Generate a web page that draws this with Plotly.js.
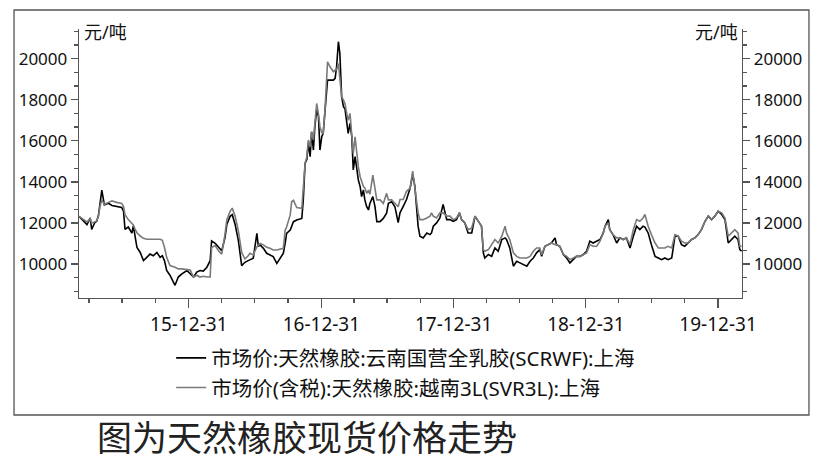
<!DOCTYPE html>
<html><head><meta charset="utf-8">
<script src="https://cdn.plot.ly/plotly-3.0.1.min.js"></script>
<style>html,body{margin:0;padding:0;background:#fff;} #chart{width:826px;height:463px;}</style>
</head><body><div id="chart"></div>
<script>
const dates = [
'2015-03-03','2015-03-15','2015-03-25','2015-04-03','2015-04-07','2015-04-15','2015-04-21','2015-04-26','2015-04-30','2015-05-05',
'2015-05-12','2015-05-23','2015-06-02','2015-06-15','2015-06-29','2015-07-04','2015-07-08','2015-07-17','2015-07-27','2015-07-31',
'2015-08-05','2015-08-10','2015-08-19','2015-08-28','2015-09-06','2015-09-15','2015-09-24','2015-10-04','2015-10-13','2015-10-19',
'2015-10-25','2015-10-31','2015-11-09','2015-11-23','2015-12-02','2015-12-12','2015-12-26','2016-01-04','2016-01-13','2016-01-22',
'2016-01-31','2016-02-09','2016-02-19','2016-02-28','2016-03-03','2016-03-13','2016-03-22','2016-03-31','2016-04-09','2016-04-14',
'2016-04-23','2016-04-29','2016-05-07','2016-05-16','2016-05-25','2016-06-03','2016-06-12','2016-06-17','2016-06-26','2016-07-06',
'2016-07-10','2016-07-15','2016-07-24','2016-08-02','2016-08-11','2016-08-20','2016-08-30','2016-09-08','2016-09-17','2016-09-22',
'2016-09-26','2016-10-06','2016-10-10','2016-10-15','2016-10-24','2016-11-07','2016-11-11','2016-11-16','2016-11-21','2016-11-25',
'2016-11-30','2016-12-04','2016-12-09','2016-12-13','2016-12-18','2016-12-23','2016-12-27','2017-01-01','2017-01-05','2017-01-10',
'2017-01-15','2017-01-17','2017-01-24','2017-02-02','2017-02-07','2017-02-11','2017-02-16','2017-02-20','2017-02-25','2017-03-02',
'2017-03-06','2017-03-11','2017-03-15','2017-03-20','2017-03-25','2017-03-29','2017-04-03','2017-04-07','2017-04-12','2017-04-17',
'2017-04-21','2017-04-26','2017-04-30','2017-05-05','2017-05-10','2017-05-14','2017-05-22','2017-05-28','2017-06-02','2017-06-11',
'2017-06-20','2017-06-29','2017-07-04','2017-07-13','2017-07-22','2017-07-31','2017-08-05','2017-08-14','2017-08-23','2017-09-02',
'2017-09-09','2017-09-15','2017-09-20','2017-09-24','2017-09-29','2017-10-08','2017-10-18','2017-10-27','2017-10-31','2017-11-05',
'2017-11-14','2017-11-23','2017-12-02','2017-12-12','2017-12-21','2017-12-30','2018-01-08','2018-01-16','2018-01-22','2018-01-31',
'2018-02-09','2018-02-19','2018-02-28','2018-03-09','2018-03-18','2018-03-23','2018-03-27','2018-04-06','2018-04-15','2018-04-24',
'2018-05-03','2018-05-13','2018-05-22','2018-05-26','2018-06-04','2018-06-14','2018-06-23','2018-07-02','2018-07-11','2018-07-21',
'2018-07-30','2018-08-08','2018-08-17','2018-08-26','2018-08-31','2018-09-09','2018-09-18','2018-09-27','2018-10-07','2018-10-11',
'2018-10-20','2018-10-30','2018-11-08','2018-11-17','2018-11-26','2018-12-05','2018-12-15','2018-12-24','2019-01-02','2019-01-11',
'2019-01-20','2019-01-30','2019-02-08','2019-02-17','2019-02-22','2019-03-03','2019-03-07','2019-03-16','2019-03-26','2019-04-04',
'2019-04-13','2019-04-22','2019-05-02','2019-05-11','2019-05-20','2019-05-29','2019-06-07','2019-06-12','2019-06-21','2019-06-30',
'2019-07-10','2019-07-19','2019-07-28','2019-08-06','2019-08-15','2019-08-25','2019-09-03','2019-09-12','2019-09-21','2019-09-30',
'2019-10-09','2019-10-19','2019-10-28','2019-11-06','2019-11-15','2019-11-25','2019-12-04','2019-12-13','2019-12-22','2019-12-31',
'2020-01-10','2020-01-19','2020-01-28','2020-02-06','2020-02-15','2020-02-24','2020-02-29','2020-03-05'
];
// 市场价:天然橡胶:云南国营全乳胶(SCRWF):上海 (元/吨)
const scrwf = [
12320,12100,11920,12240,11680,12000,12080,12400,12960,13600,
12880,12960,12850,12800,12750,12560,11680,11800,11500,11850,
11280,10800,10560,10160,10320,10480,10400,10560,10320,10400,
10150,9680,9450,8960,9360,9520,9680,9520,9360,9600,
9680,9650,9840,10160,11120,11000,10800,10640,11280,11920,
12320,12400,11920,11120,9920,10080,10160,10190,10280,11490,
10850,10930,10760,10520,10440,10360,10030,10280,10520,11000,
11490,11650,11800,12060,12140,12220,13100,14900,15100,15900,
15230,16440,15550,16690,17500,17180,15550,16200,16360,17500,
18960,18960,18960,18960,19040,19610,20830,20260,18150,17660,
17580,17010,16360,16850,16200,14580,15230,14740,14090,13770,
13280,13600,13120,12790,12630,12950,13280,12790,12060,12060,
12220,12470,12950,13030,12790,12010,12490,12810,13140,13700,
14360,13790,12490,11840,11350,11270,11510,11430,11510,11840,
12000,12240,12900,12160,12160,12080,12160,12490,12160,12000,
11510,11510,12330,12080,11840,10540,10290,10460,10370,10780,
10620,11190,11270,11190,10780,9890,10130,10050,9970,9890,
10130,10290,10540,10700,10370,10860,10940,11020,11270,10940,
10860,10460,10290,10050,10210,10370,10370,10460,10620,11110,
11020,11110,11190,11510,11840,12160,11670,11430,11020,11270,
11190,11270,10780,11350,11840,11670,11840,11800,11510,10940,
10370,10290,10210,10290,10210,10290,11350,11350,10940,10860,
11020,11190,11270,11430,11670,12080,12330,12160,12330,12570,
12410,12160,11020,11190,11350,11190,10700,10620
];
// 市场价(含税):天然橡胶:越南3L(SVR3L):上海 (元/吨)
const svr3l = [
12320,12150,12050,12200,12000,12050,12100,12350,12800,13120,
12900,13000,13070,13000,12950,12800,12400,12160,12000,11900,
11680,11520,11360,11250,11200,11200,11200,11200,11200,11150,
10800,10320,9920,9840,9760,9760,9720,9700,9360,9450,
9360,9400,9360,9360,10800,10900,10640,10480,11440,12160,
12560,12720,12320,11600,10560,10240,10400,10520,10440,10840,
10900,11000,10930,10810,10760,10680,10680,10710,10760,11650,
11800,12390,13030,13100,12750,12710,13770,14900,15230,16040,
15710,16440,16040,16690,17820,17300,16690,16400,16360,17500,
19200,19850,19610,19370,19450,19450,19770,18960,18150,17990,
17820,17340,17000,17340,16040,15390,16200,15390,14740,14250,
14010,13770,13700,13440,13600,13400,14330,13770,13120,13120,
12950,13440,13120,13120,12950,12790,13140,13140,13540,13700,
14520,13790,12980,12490,12160,12160,12240,12330,12490,12330,
12240,12490,12490,12330,12330,12160,12240,12490,12160,12000,
11670,11750,12330,12080,11840,10700,10620,10700,10940,11190,
11020,11350,11840,11510,11190,10540,10370,10290,10290,10290,
10370,10620,10780,10780,10450,10860,10940,11020,10940,10940,
10860,10460,10370,10210,10290,10370,10370,10460,10540,10940,
10860,10860,11110,11510,11840,12000,11670,11430,11270,11270,
11190,11270,10940,11670,12160,12080,12240,12410,11840,11430,
11020,10780,10780,10780,10860,10780,11430,11350,11110,11020,
11020,11190,11270,11430,11670,12080,12330,12160,12330,12570,
12490,12240,11350,11510,11670,11510,10860,10860
];
const seriesNames = ['市场价:天然橡胶:云南国营全乳胶(SCRWF):上海', '市场价(含税):天然橡胶:越南3L(SVR3L):上海'];
const xTickVals = ['2015-12-31','2016-12-31','2017-12-31','2018-12-31','2019-12-31'];
const xTickText = ['15-12-31','16-12-31','17-12-31','18-12-31','19-12-31'];
const xMinorVals = ['2015-03-31','2015-06-30','2015-09-30','2016-03-31','2016-06-30','2016-09-30',
  '2017-03-31','2017-06-30','2017-09-30','2018-03-31','2018-06-30','2018-09-30','2019-03-31','2019-06-30','2019-09-30'];
const yTickVals = [10000,12000,14000,16000,18000,20000];
const yTickText = ['10000','12000','14000','16000','18000','20000'];
const yMinorVals = [8667,9333,10667,11333,12667,13333,14667,15333,16667,17333,18667,19333,20667,21333];
const unitLabel = '元/吨';
const caption = '图为天然橡胶现货价格走势';

const FONT = '"Noto Sans", "Noto Sans CJK SC", sans-serif';
const AX = '#555';
const xRange = ['2015-03-03','2020-03-06'];
const yRange = [8340, 21450];

const traces = [
  {x: dates, y: scrwf, name: seriesNames[0], type: 'scatter', mode: 'lines', yaxis: 'y',
   legendgroup: 'a', line: {color: '#000000', width: 1.6}, hoverinfo: 'skip'},
  {x: dates, y: svr3l, name: seriesNames[1], type: 'scatter', mode: 'lines', yaxis: 'y2',
   legendgroup: 'b', line: {color: '#7a7a7a', width: 1.6}, hoverinfo: 'skip'}
];

const yCommon = {
  range: yRange, tickmode: 'array', tickvals: yTickVals, ticktext: yTickText, ticks: 'outside', ticklen: 7, tickwidth: 1.3,
  tickcolor: AX, showline: true, linecolor: AX, linewidth: 1.3, showgrid: false, zeroline: false,
  tickfont: {family: FONT, size: 17, color: '#111'}, fixedrange: true,
  minor: {tickmode: 'array', tickvals: yMinorVals, ticks: 'outside', ticklen: 4, tickwidth: 1.3, tickcolor: AX, showgrid: false}
};

const layout = {
  width: 826, height: 463,
  margin: {l: 79, r: 84, t: 29, b: 165, pad: 0},
  paper_bgcolor: '#ffffff', plot_bgcolor: '#ffffff',
  font: {family: FONT, color: '#111'},
  showlegend: true,
  legend: {x: 0.139, y: -0.149, xanchor: 'left', yanchor: 'top', orientation: 'v',
    font: {family: FONT, size: 20.5, color: '#111'}, bgcolor: 'rgba(0,0,0,0)', itemwidth: 30,
    tracegroupgap: 4, traceorder: 'normal'},
  xaxis: {
    type: 'date', range: xRange, tickmode: 'array', tickvals: xTickVals, ticktext: xTickText,
    ticks: 'outside', ticklen: 9, tickwidth: 1.3, tickcolor: AX, showline: true, linecolor: AX, linewidth: 1.3,
    showgrid: false, zeroline: false, tickfont: {family: FONT, size: 19, color: '#111'}, fixedrange: true,
    minor: {tickmode: 'array', tickvals: xMinorVals, ticks: 'outside', ticklen: 4, tickwidth: 1.3, tickcolor: AX, showgrid: false}
  },
  yaxis: Object.assign({}, yCommon, {side: 'left'}),
  yaxis2: Object.assign({}, yCommon, {side: 'right', overlaying: 'y', anchor: 'x'}),
  shapes: [
    {type: 'rect', xref: 'paper', yref: 'paper', x0: -0.098, x1: 1.101, y0: -0.435, y1: 1.0706,
     line: {color: AX, width: 1.3}, fillcolor: 'rgba(0,0,0,0)'}
  ],
  annotations: [
    {text: unitLabel, xref: 'paper', yref: 'paper', x: 0, y: 0.989, xanchor: 'left', yanchor: 'middle',
     xshift: 3, showarrow: false, font: {family: FONT, size: 18, color: '#111'}},
    {text: unitLabel, xref: 'paper', yref: 'paper', x: 1, y: 0.989, xanchor: 'right', yanchor: 'middle',
     xshift: -2, showarrow: false, font: {family: FONT, size: 18, color: '#111'}},
    {text: caption, xref: 'paper', yref: 'paper', x: 0.024, y: -0.6134, xanchor: 'left', yanchor: 'bottom',
     showarrow: false, font: {family: FONT, size: 35, color: '#222'}}
  ]
};

Plotly.newPlot('chart', traces, layout, {displayModeBar: false, staticPlot: true});
</script>
</body></html>
